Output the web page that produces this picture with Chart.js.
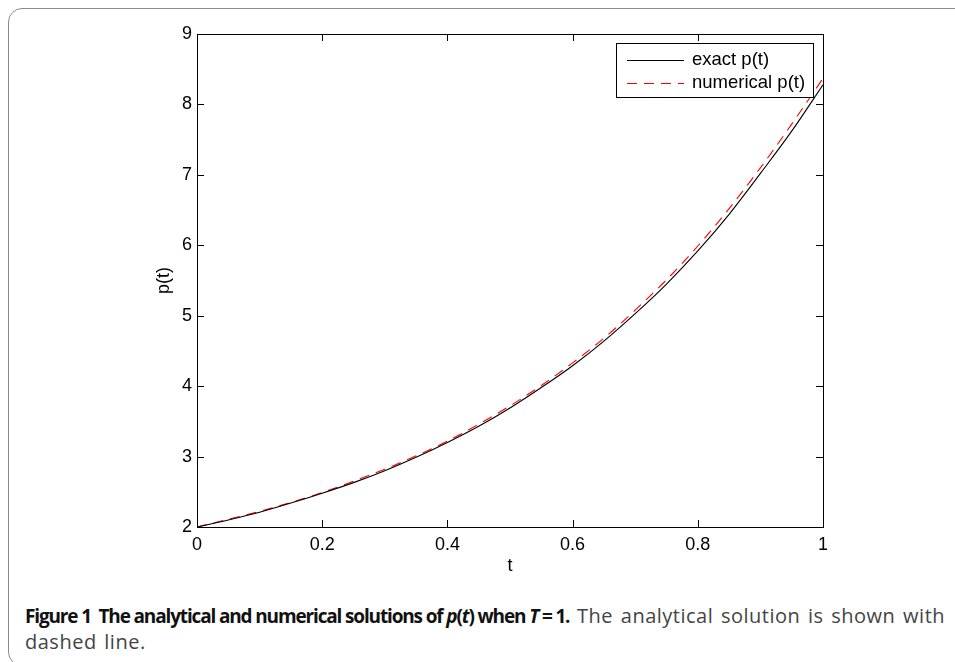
<!DOCTYPE html>
<html>
<head>
<meta charset="utf-8">
<script src="https://cdn.jsdelivr.net/npm/chart.js@4/dist/chart.umd.min.js"></script>
<style>
  html, body { margin: 0; padding: 0; background: #fff; }
  body { width: 955px; height: 662px; position: relative; overflow: hidden; }
  #frame { position: absolute; left: 8px; top: 8px; width: 990px; height: 658px;
           border: 1px solid #8a8a8a; border-radius: 14px; box-sizing: border-box; }
  #wrap { position: absolute; left: 0; top: 0; width: 955px; height: 580px; }
  #caption { position: absolute; left: 25px; top: 603px; width: 940px; white-space: nowrap;
             font-family: "Open Sans", "Noto Sans", sans-serif;
             font-size: 19px; line-height: 25px; color: #444; }
  #caption b { color: #111; letter-spacing: -1.15px; }
  #caption .reg { font-size: 20px; letter-spacing: 0.5px; word-spacing: 2px; }
</style>
</head>
<body>
<div id="frame"></div>
<div id="wrap"><canvas id="c" width="955" height="580"></canvas></div>
<div id="caption"><b>Figure 1&nbsp;&nbsp;The analytical and numerical solutions of <i>p</i>(<i>t</i>) when <i>T</i> = 1.</b><span class="reg"> The analytical solution is shown with<br>dashed line.</span></div>
<script>
const tValues = [0, 0.05, 0.1, 0.15, 0.2, 0.25, 0.3, 0.35, 0.4, 0.45, 0.5, 0.55, 0.6, 0.65, 0.7, 0.75, 0.8, 0.85, 0.9, 0.95, 1.0];
const exactP = [2.00, 2.10, 2.21, 2.34, 2.48, 2.63, 2.80, 2.99, 3.20, 3.43, 3.69, 3.98, 4.29, 4.64, 5.03, 5.45, 5.92, 6.44, 7.02, 7.62, 8.28];
const numericalP = [2.00, 2.11, 2.22, 2.35, 2.49, 2.65, 2.82, 3.01, 3.22, 3.46, 3.72, 4.01, 4.33, 4.68, 5.08, 5.51, 5.99, 6.52, 7.10, 7.72, 8.37];
const xTicks = [0, 0.2, 0.4, 0.6, 0.8, 1];
const yTicks = [2, 3, 4, 5, 6, 7, 8, 9];
const seriesNames = ['exact p(t)', 'numerical p(t)'];
const xTitle = 't';
const yTitle = 'p(t)';

const FONT = '"Liberation Sans", Arial, Helvetica, sans-serif';
const FSIZE = 18;

const boxPlugin = {
  id: 'matlabBox',
  afterDraw(chart) {
    const ctx = chart.ctx, a = chart.chartArea;
    const xs = chart.scales.x, ys = chart.scales.y;
    ctx.save();
    ctx.strokeStyle = '#000';
    ctx.lineWidth = 1;
    ctx.strokeRect(Math.round(a.left) + 0.5, Math.round(a.top) + 0.5,
                   Math.round(a.right - a.left), Math.round(a.bottom - a.top));
    const L = 7;
    ctx.beginPath();
    xTicks.forEach(v => {
      const x = Math.round(xs.getPixelForValue(v)) + 0.5;
      ctx.moveTo(x, a.bottom); ctx.lineTo(x, a.bottom - L);
      ctx.moveTo(x, a.top); ctx.lineTo(x, a.top + L);
    });
    yTicks.forEach(v => {
      const y = Math.round(ys.getPixelForValue(v)) + 0.5;
      ctx.moveTo(a.left, y); ctx.lineTo(a.left + L, y);
      ctx.moveTo(a.right, y); ctx.lineTo(a.right - L, y);
    });
    ctx.stroke();

    // axis titles
    ctx.fillStyle = '#000';
    ctx.font = FSIZE + 'px ' + FONT;
    ctx.textAlign = 'center';
    ctx.textBaseline = 'middle';
    ctx.fillText(xTitle, (a.left + a.right) / 2, 566);
    ctx.save();
    ctx.translate(164, (a.top + a.bottom) / 2);
    ctx.rotate(-Math.PI / 2);
    ctx.fillText(yTitle, 0, 0);
    ctx.restore();

    // legend
    const bx = 616.5, by = 43.5, bw = 197, bh = 54;
    ctx.fillStyle = '#fff';
    ctx.fillRect(bx, by, bw, bh);
    ctx.strokeStyle = '#000';
    ctx.strokeRect(bx, by, bw, bh);
    const rows = [60, 83];
    ctx.font = '18.5px ' + FONT;
    chart.data.datasets.forEach((ds, i) => {
      ctx.beginPath();
      ctx.strokeStyle = ds.borderColor;
      ctx.lineWidth = 1;
      ctx.setLineDash(ds.borderDash || []);
      ctx.moveTo(627, rows[i] + 0.5);
      ctx.lineTo(684, rows[i] + 0.5);
      ctx.stroke();
      ctx.setLineDash([]);
      ctx.fillStyle = '#000';
      ctx.textAlign = 'left';
      ctx.fillText(ds.label, 692, rows[i]);
    });
    ctx.restore();
  }
};

new Chart(document.getElementById('c'), {
  type: 'line',
  data: {
    datasets: [
      { label: seriesNames[0], data: tValues.map((t, i) => ({ x: t, y: exactP[i] })),
        borderColor: '#000', borderWidth: 1.1, pointRadius: 0, tension: 0.4, cubicInterpolationMode: 'monotone', fill: false },
      { label: seriesNames[1], data: tValues.map((t, i) => ({ x: t, y: numericalP[i] })),
        borderColor: '#ff0000', borderWidth: 1.1, borderDash: [10, 7], pointRadius: 0, tension: 0.4, cubicInterpolationMode: 'monotone', fill: false }
    ]
  },
  options: {
    responsive: false,
    animation: false,
    layout: { padding: { left: 0, top: 34, right: 132, bottom: 0 } },
    plugins: { legend: { display: false }, tooltip: { enabled: false }, title: { display: false } },
    scales: {
      x: {
        type: 'linear', min: 0, max: 1,
        grid: { display: false, drawTicks: false },
        border: { display: false },
        afterFit(s) { s.height = 53; },
        afterBuildTicks(s) { s.ticks = xTicks.map(v => ({ value: v })); },
        ticks: { color: '#000', padding: 7, maxRotation: 0, font: { family: FONT, size: FSIZE },
                 callback: v => String(v) }
      },
      y: {
        type: 'linear', min: 2, max: 9,
        grid: { display: false, drawTicks: false },
        border: { display: false },
        afterFit(s) { s.width = 197; },
        afterBuildTicks(s) { s.ticks = yTicks.map(v => ({ value: v })); },
        ticks: { color: '#000', padding: 5, font: { family: FONT, size: FSIZE },
                 callback: v => String(v) }
      }
    }
  },
  plugins: [boxPlugin]
});
</script>
</body>
</html>
